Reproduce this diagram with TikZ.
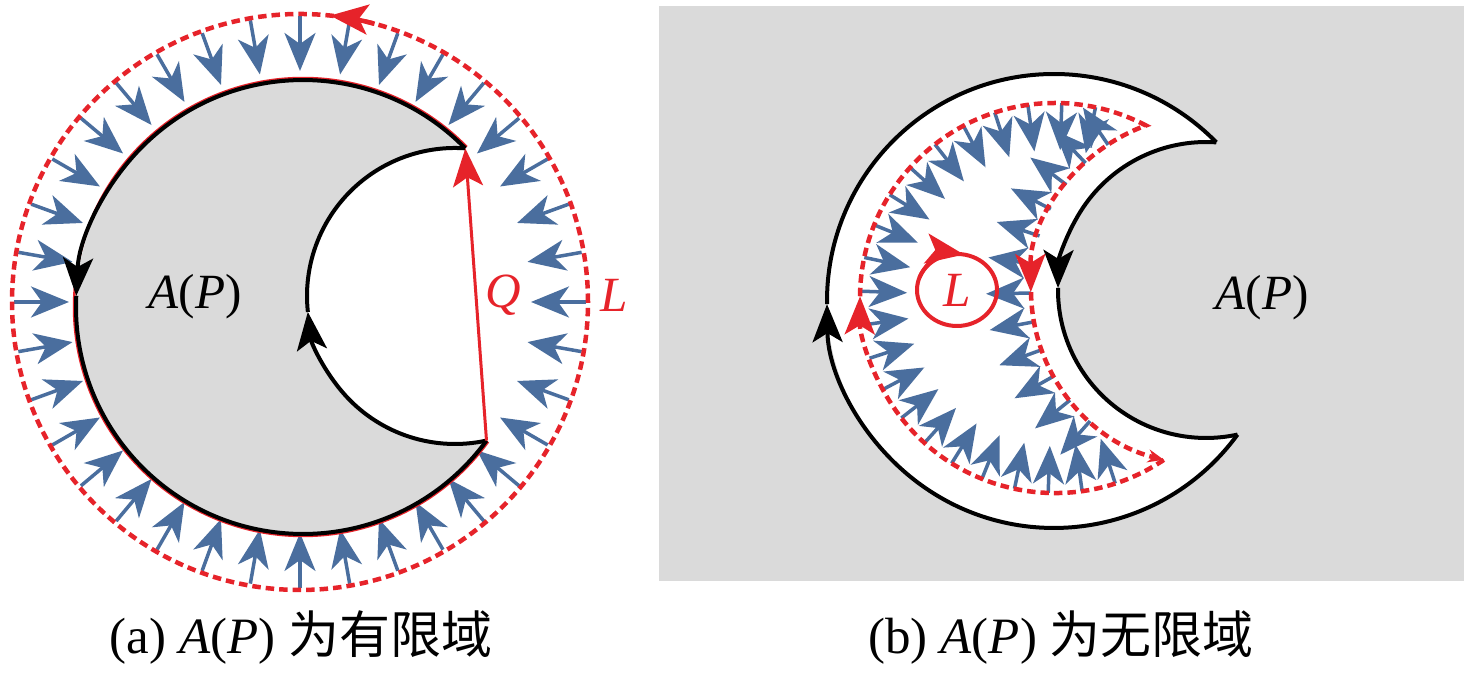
\documentclass[tikz,border=0pt]{standalone}
\usepackage{xcolor}
\usepackage{fontspec}
\setmainfont{Liberation Serif}
\newfontfamily\cjk{Noto Sans CJK SC}
\usepackage{tikz}
\usetikzlibrary{calc,arrows.meta}

\definecolor{fluxblue}{RGB}{74,110,158}
\definecolor{loopred}{RGB}{230,35,42}
\definecolor{regiongray}{RGB}{218,218,218}

\tikzset{
    flux/.style={fluxblue, line width=0.35mm, -{Stealth[length=3.8mm,width=3.1mm,inset=1.1mm]}},
    bound/.style={black, line width=0.4mm},
    boundtip/.style={bound, -{Stealth[length=3.8mm,width=3mm,inset=0.9mm]}},
    loopdash/.style={loopred, line width=0.45mm, dash pattern=on 0.85mm off 0.5mm},
    redtip/.style={-{Stealth[length=3.8mm,width=3mm,inset=0.9mm]}},
}

\begin{document}
\begin{tikzpicture}[x=0.1mm,y=0.1mm,font=\fontsize{14}{17}\selectfont]
    \useasboundingbox (0,0) rectangle (1476,679);
    %\draw[step=100,gray,very thin] (0,0) grid (1476,679);

    % (a) bounded region
    \coordinate (Oa) at (303,372);
    \coordinate (Ia) at (455,383);
    \coordinate (Ca) at (300,377);
    \coordinate (Qtop) at (465.3,530.6);
    \coordinate (Qbot) at (486.5,238.4);

    \fill[regiongray] (Qtop) arc (44.34:323.94:227) arc (282.3:86:148) -- cycle;

    \foreach \a in {0,10,...,350}
        \draw[flux] ($(Ca)+(\a:286)$) -- ($(Ca)+(\a:231)$);

    \draw[loopdash] (Ca) circle (288);
    \draw[loopred, line width=0.45mm, redtip] ($(Ca)+(75:288)$) arc (75:84:288);

    \draw[loopred, line width=0.25mm] ($(Oa)+(44.34:229)$) arc (44.34:323.94:229);
    \draw[boundtip] (Qtop) arc (44.34:177.2:227);
    \draw[bound] ($(Oa)+(177.2:227)$) arc (177.2:323.94:227);
    \draw[boundtip] (Qbot) arc (282.3:186.2:148);
    \draw[bound] ($(Ia)+(186.2:148)$) arc (186.2:86:148);
    \draw[loopred, line width=0.3mm, redtip] (Qbot) -- (Qtop);

    \node (APa) at (195,382) {\textit{A}(\textit{P})};
    \node[loopred] (Qlab) at (503,384) {\textit{Q}};
    \node[loopred] (La) at (614,384) {\textit{L}};
    \node[font=\fontsize{14.5}{17}\selectfont] (capa) at (301,41) {(a) \textit{A}(\textit{P}) {\cjk 为有限域}};

    % (b) unbounded region
    \fill[regiongray] (659,98) rectangle (1464,673);
    \coordinate (Ob) at (1054,378);
    \coordinate (Ib) at (1206,389);
    \coordinate (Btop) at (1216.3,536.6);
    \coordinate (Bbot) at (1237.5,244.4);
    \coordinate (Od) at (1055,381);
    \coordinate (Dtop) at (1146.0,553.5);
    \coordinate (Dbot) at (1163.8,219.1);
    \coordinate (Lc) at (957,389);

    \fill[white] (Btop) arc (44.34:323.94:227) arc (282.3:86:148) -- cycle;
    \draw[boundtip] (Bbot) arc (323.94:180.8:227);
    \draw[bound] ($(Ob)+(180.8:227)$) arc (180.8:44.34:227);
    \draw[boundtip] (Btop) arc (86:179.2:148);
    \draw[bound] ($(Ib)+(179.2:148)$) arc (179.2:282.3:148);

    \foreach \a in {78,88,...,288}
        \draw[flux] ($(Od)+(\a:195)$) -- ($(Od)+(\a:148)$);
    \foreach \a in {124,133.5,...,229}
        \draw[flux] ($(Ib)+(\a:175)$) -- ($(Ib)+(\a:220)$);

    \draw[loopdash, redtip] (Dbot) arc (-56.1:-180.5:195);
    \draw[loopdash, redtip] ($(Od)+(-180.5:195)$) arc (-180.5:-297.8:195) arc (110:180.7:175);
    \draw[loopdash, -{Stealth[length=1.6mm,width=1.3mm]}] ($(Ib)+(180.7:175)$) arc (180.7:256.05:175);

    \draw[loopred, line width=0.4mm] (Lc) ellipse (40 and 36);
    \draw[loopred, line width=0.4mm, redtip] ($(Lc)+(160:40 and 36)$) arc (160:80:40 and 36);
    \node[loopred] (Lb) at (Lc) {\textit{L}};

    \node (APb) at (1262,381) {\textit{A}(\textit{P})};
    \node[font=\fontsize{14.5}{17}\selectfont] (capb) at (1061,41) {(b) \textit{A}(\textit{P}) {\cjk 为无限域}};
\end{tikzpicture}
\end{document}
